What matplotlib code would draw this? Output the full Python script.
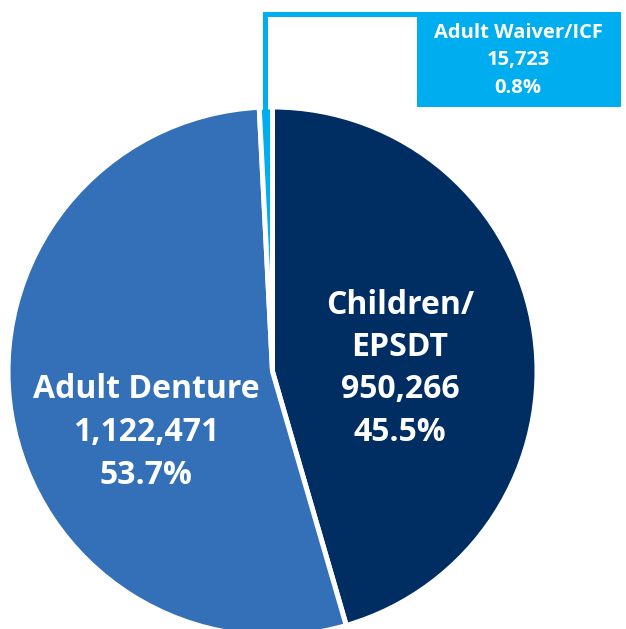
import matplotlib
import matplotlib.pyplot as plt
from matplotlib.patches import Rectangle

matplotlib.use("Agg")

# Slice data, clockwise from 12 o'clock
labels = ["Children/\nEPSDT", "Adult Denture", "Adult Waiver/ICF"]
counts = [950266, 1122471, 15723]
shares = [45.5, 53.7, 0.8]
colors = ["#002d62", "#3470b8", "#00aeef"]

W, H = 626, 629
plt.rcParams["font.family"] = ["Open Sans", "DejaVu Sans"]

fig = plt.figure(figsize=(W / 100, H / 100), dpi=100)
ax = fig.add_axes([0, 0, 1, 1])

# pie in pixel units (y measured from the bottom)
cx, cy, r = 272.5, 257.5, 264.5
ax.pie(shares, colors=colors, startangle=90, counterclock=False,
       center=(cx, cy), radius=r, frame=True,
       wedgeprops=dict(edgecolor="white", linewidth=3.6))
ax.set_xlim(0, W)
ax.set_ylim(0, H)
ax.set_aspect("equal")
ax.axis("off")


def fmt(i):
    return [*labels[i].split("\n"), f"{counts[i]:,}", f"{shares[i]}%"]


# big in-slice labels
for i, (x, y0) in enumerate([(400, H - 305), (146, H - 390)]):
    for k, line in enumerate(fmt(i)):
        ax.text(x, y0 - k * 42.5, line, color="white", fontsize=23,
                fontweight="bold", ha="center", va="center")

# callout for the small slice
ax.plot([264.5, 264.5, 418], [H - 112, H - 14, H - 14],
        color=colors[2], lw=3.6, solid_capstyle="butt", solid_joinstyle="miter")
ax.add_patch(Rectangle((417, H - 107), 204, 95, color=colors[2], lw=0))
for k, line in enumerate(fmt(2)):
    ax.text(518, H - 33 - k * 27.5, line, color="white", fontsize=14.5,
            fontweight="bold", ha="center", va="center")

fig.savefig("out.png", dpi=100)
